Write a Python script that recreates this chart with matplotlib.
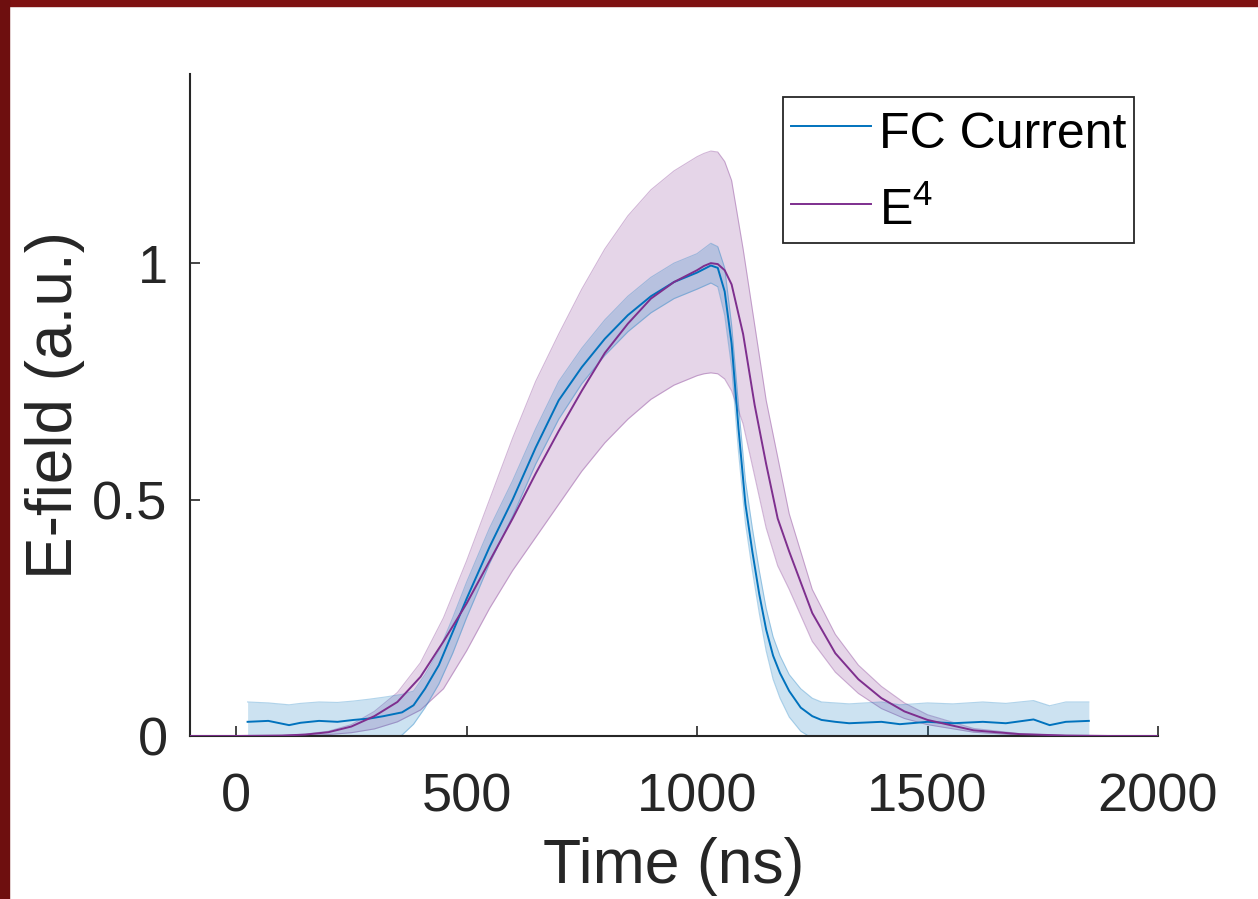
import matplotlib.pyplot as plt
import numpy as np
from matplotlib.patches import Rectangle

plt.rcParams['font.family'] = ['Liberation Sans', 'DejaVu Sans']
plt.rcParams['mathtext.default'] = 'regular'

# E^4 curve (purple) and its band
t_e4 = [-100, 0, 100, 150, 200, 250, 300, 350, 400, 450, 500, 550, 600, 650, 700,
        750, 800, 850, 900, 950, 1000, 1015, 1030, 1045, 1060, 1075, 1100, 1125,
        1150, 1175, 1200, 1250, 1300, 1350, 1400, 1450, 1500, 1600, 1700, 1800,
        1900, 2000]
e4_mean = [0, 0, 0.001, 0.003, 0.008, 0.02, 0.042, 0.072, 0.125, 0.2, 0.28, 0.37,
           0.46, 0.555, 0.645, 0.73, 0.81, 0.872, 0.925, 0.96, 0.985, 0.994, 1.0,
           0.998, 0.985, 0.955, 0.85, 0.70, 0.575, 0.46, 0.39, 0.26, 0.175, 0.12,
           0.08, 0.052, 0.034, 0.012, 0.004, 0.001, 0, 0]
e4_hi = [0, 0, 0.001, 0.004, 0.01, 0.024, 0.052, 0.092, 0.155, 0.25, 0.37, 0.5,
         0.63, 0.75, 0.85, 0.945, 1.03, 1.1, 1.155, 1.195, 1.225, 1.232, 1.237,
         1.235, 1.215, 1.175, 1.03, 0.87, 0.71, 0.59, 0.47, 0.31, 0.215, 0.15,
         0.105, 0.07, 0.045, 0.016, 0.005, 0.001, 0, 0]
e4_lo = [0, 0, 0, 0.001, 0.003, 0.007, 0.015, 0.03, 0.055, 0.1, 0.18, 0.27,
         0.35, 0.42, 0.49, 0.56, 0.62, 0.67, 0.712, 0.742, 0.762, 0.766, 0.768,
         0.766, 0.755, 0.73, 0.66, 0.55, 0.44, 0.36, 0.31, 0.2, 0.135, 0.09,
         0.058, 0.037, 0.024, 0.008, 0.002, 0, 0, 0]

# FC current (blue) and its band
t_fc = [25, 70, 115, 140, 180, 220, 255, 290, 320, 340, 360, 385, 410, 440, 470,
        500, 550, 600, 650, 700, 750, 800, 850, 900, 950, 1000, 1030, 1045, 1060,
        1075, 1090, 1105, 1120, 1135, 1150, 1165, 1180, 1200, 1225, 1250, 1270,
        1300, 1330, 1400, 1440, 1500, 1555, 1620, 1670, 1730, 1765, 1800, 1850]
fc_mean = [0.030, 0.032, 0.023, 0.028, 0.032, 0.030, 0.034, 0.037, 0.042, 0.046,
           0.050, 0.065, 0.10, 0.15, 0.22, 0.29, 0.40, 0.50, 0.61, 0.71, 0.78,
           0.84, 0.89, 0.93, 0.96, 0.98, 0.995, 0.99, 0.94, 0.83, 0.65, 0.49, 0.39,
           0.30, 0.225, 0.17, 0.133, 0.095, 0.06, 0.042, 0.034, 0.030, 0.027,
           0.030, 0.025, 0.030, 0.027, 0.030, 0.027, 0.035, 0.023, 0.030, 0.032]
fc_hi = [0.072, 0.070, 0.066, 0.069, 0.072, 0.071, 0.074, 0.078, 0.082, 0.085,
         0.088, 0.095, 0.13, 0.18, 0.25, 0.325, 0.44, 0.54, 0.65, 0.75, 0.82,
         0.88, 0.93, 0.97, 1.0, 1.02, 1.042, 1.035, 0.99, 0.87, 0.70, 0.54, 0.44,
         0.35, 0.27, 0.21, 0.17, 0.13, 0.10, 0.08, 0.072, 0.070, 0.068, 0.072,
         0.066, 0.070, 0.068, 0.072, 0.069, 0.075, 0.064, 0.072, 0.072]
fc_lo = [-0.01, -0.01, -0.01, -0.01, -0.01, -0.01, -0.01, -0.01, -0.01, -0.005,
         0.002, 0.025, 0.06, 0.11, 0.175, 0.25, 0.365, 0.465, 0.575, 0.67, 0.745,
         0.805, 0.855, 0.895, 0.925, 0.945, 0.958, 0.95, 0.89, 0.78, 0.60, 0.45,
         0.35, 0.26, 0.18, 0.12, 0.08, 0.04, 0.01, -0.005, -0.01, -0.01, -0.01,
         -0.01, -0.01, -0.01, -0.01, -0.01, -0.01, -0.01, -0.01, -0.01, -0.01]

blue = '#0072BD'
purple = '#7E2F8E'
axis_col = '#262626'

fig = plt.figure(figsize=(12.58, 8.99), dpi=100)
# dark red frame strips (top and left)
fig.patches.append(Rectangle((0, 1 - 6 / 899), 1, 6 / 899, transform=fig.transFigure,
                             color='#7f1212', zorder=0))
fig.patches.append(Rectangle((0, 0), 9 / 1258, 1, transform=fig.transFigure,
                             color='#6e0f0f', zorder=0))

ax = fig.add_axes([0.151, 0.1813, 0.7695, 0.7364])

ax.fill_between(t_e4, e4_lo, e4_hi, color=purple, alpha=0.2, lw=0, zorder=1)
ax.plot(t_e4, e4_hi, color=purple, alpha=0.35, lw=0.8, zorder=1)
ax.plot(t_e4, e4_lo, color=purple, alpha=0.35, lw=0.8, zorder=1)

ax.fill_between(t_fc, fc_lo, fc_hi, color=blue, alpha=0.2, lw=0, zorder=2)
ax.plot(t_fc, fc_hi, color=blue, alpha=0.3, lw=0.8, zorder=2)
ax.plot(t_fc, fc_lo, color=blue, alpha=0.3, lw=0.8, zorder=2)

ax.plot(t_fc, fc_mean, color=blue, lw=1.4, label='FC Current', zorder=3)
ax.plot(t_e4, e4_mean, color=purple, lw=1.4, label='E$^4$', zorder=4)

ax.set_xlim(-100, 2000)
ax.set_ylim(0, 1.4)
ax.set_xticks([0, 500, 1000, 1500, 2000])
ax.set_yticks([0, 0.5, 1])
ax.set_yticklabels(['0', '0.5', '1'])

for s in ['top', 'right']:
    ax.spines[s].set_visible(False)
for s in ['left', 'bottom']:
    ax.spines[s].set_color(axis_col)
    ax.spines[s].set_linewidth(1.5)

ax.tick_params(axis='x', direction='in', length=7, width=1.2, colors=axis_col,
               labelsize=39, pad=26)
ax.tick_params(axis='y', direction='in', length=7, width=1.2, colors=axis_col,
               labelsize=39, pad=16)

ax.set_xlabel('Time (ns)', fontsize=45, color=axis_col, labelpad=11)
ax.set_ylabel('E-field (a.u.)', fontsize=46, color=axis_col, labelpad=5)

leg = ax.legend(loc='upper right', bbox_to_anchor=(1134 / 1258, 1 - 97 / 899),
                bbox_transform=fig.transFigure, borderaxespad=0, fontsize=36,
                frameon=True, fancybox=False, framealpha=1, edgecolor=axis_col,
                handlelength=1.6, handleheight=1.2, handletextpad=0.16,
                labelspacing=0.5, borderpad=0.16)
leg.get_frame().set_linewidth(1.3)

plt.savefig('out.png', dpi=100)
